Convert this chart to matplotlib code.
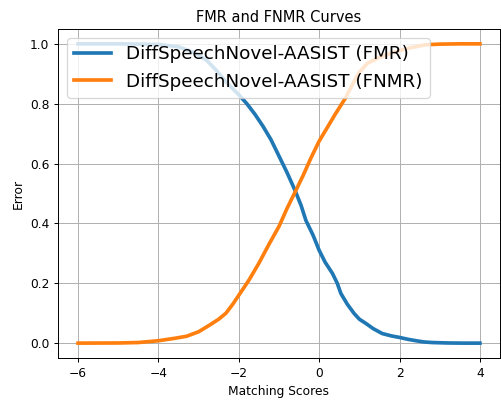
import numpy as np
import matplotlib
matplotlib.use('Agg')
import matplotlib.pyplot as plt

# scores
fmr_x = [-6.0, -5.0, -4.0, -3.5, -3.1, -2.8, -2.55, -2.3, -2.0, -1.9, -1.8, -1.6, -1.4, -1.2,
         -1.0, -0.8, -0.6, -0.45, -0.33, -0.15, 0.0, 0.15, 0.33, 0.45, 0.54, 0.7, 0.87,
         1.0, 1.16, 1.35, 1.57, 1.8, 2.0, 2.2, 2.41, 2.6, 2.81, 3.2, 3.6, 4.0]
fmr_y = [1.0, 1.0, 0.998, 0.99, 0.97, 0.945, 0.91, 0.87, 0.83, 0.815, 0.80, 0.765, 0.725, 0.68,
         0.625, 0.57, 0.51, 0.46, 0.41, 0.36, 0.31, 0.27, 0.233, 0.20, 0.166, 0.13, 0.099,
         0.08, 0.066, 0.048, 0.032, 0.024, 0.019, 0.013, 0.008, 0.004, 0.002, 0.0005, 0.0, 0.0]

fnmr_x = [-6.0, -5.0, -4.5, -4.0, -3.6, -3.3, -3.0, -2.73, -2.5, -2.32, -2.15, -2.0, -1.75,
          -1.5, -1.25, -1.0, -0.8, -0.58, -0.4, -0.2, 0.0, 0.2, 0.4, 0.66, 0.85, 1.0, 1.2,
          1.5, 1.82, 2.2, 2.65, 3.0, 3.5, 4.0]
fnmr_y = [0.0, 0.0005, 0.002, 0.008, 0.016, 0.023, 0.038, 0.06, 0.08, 0.10, 0.13, 0.16, 0.21,
          0.267, 0.33, 0.39, 0.45, 0.51, 0.56, 0.62, 0.675, 0.72, 0.765, 0.82, 0.87, 0.905, 0.935,
          0.955, 0.97, 0.985, 0.997, 0.999, 1.0, 1.0]

dpi = 88
fig = plt.figure(figsize=(502 / dpi, 401 / dpi), dpi=dpi)
ax = fig.add_axes([0.1155, 0.107, 0.8805, 0.821])
ax.plot(fmr_x, fmr_y, lw=3, label='DiffSpeechNovel-AASIST (FMR)')
ax.plot(fnmr_x, fnmr_y, lw=3, label='DiffSpeechNovel-AASIST (FNMR)')
ax.set_title('FMR and FNMR Curves')
ax.set_xlabel('Matching Scores')
ax.set_ylabel('Error')
ax.grid(True)
ax.legend(loc='upper left', fontsize=15)
fig.savefig('out.png', dpi=dpi)
